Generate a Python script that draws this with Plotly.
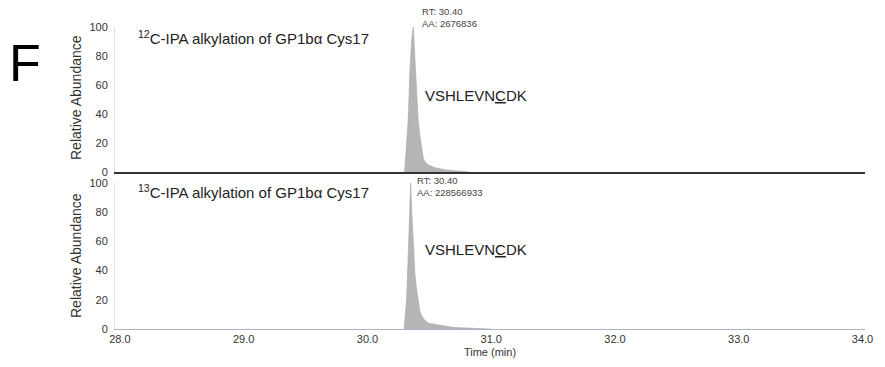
import plotly.graph_objects as go

# ---- data ----
time_12c = [30.300, 30.329, 30.343, 30.357, 30.370, 30.378, 30.389, 30.400, 30.410, 30.424,
            30.438, 30.450, 30.464, 30.491, 30.518, 30.545, 30.626, 30.706, 30.820]
abund_12c = [0, 36, 70, 91, 100, 85, 65, 45, 35, 25,
             16, 10, 7, 5, 4, 3, 1.5, 0.7, 0]

time_13c = [30.296, 30.316, 30.329, 30.340, 30.349, 30.357, 30.370, 30.383, 30.397, 30.410,
            30.424, 30.438, 30.464, 30.491, 30.545, 30.626, 30.706, 30.850, 31.000]
abund_13c = [0, 20, 50, 85, 100, 82, 57, 38, 27, 18,
             12, 9, 6, 4, 3, 2, 1, 0.3, 0]

x_ticks = [28.0, 29.0, 30.0, 31.0, 32.0, 33.0, 34.0]
y_ticks = [0, 20, 40, 60, 80, 100]

title_12c = "<sup>12</sup>C-IPA alkylation of GP1bα Cys17"
title_13c = "<sup>13</sup>C-IPA alkylation of GP1bα Cys17"
peptide = "VSHLEVN<u>C</u>DK"
rt_12c = "RT: 30.40<br>AA: 2676836"
rt_13c = "RT: 30.40<br>AA: 228566933"

W, H = 885, 367
FONT = "Arial, Liberation Sans, sans-serif"

def py(p):  # pixel row -> paper y
    return 1 - p / H

def px(p):
    return p / W

fig = go.Figure()
fig.add_trace(go.Scatter(x=time_12c, y=abund_12c, mode="lines", fill="tozeroy",
                         fillcolor="#b5b5b5", line=dict(color="#a8a8a8", width=0.6),
                         xaxis="x", yaxis="y", hoverinfo="skip", showlegend=False))
fig.add_trace(go.Scatter(x=time_13c, y=abund_13c, mode="lines", fill="tozeroy",
                         fillcolor="#b5b5b5", line=dict(color="#a8a8a8", width=0.6),
                         xaxis="x2", yaxis="y2", hoverinfo="skip", showlegend=False))

xr = [27.96, 34.02]
xdom = [px(115), px(865)]
ycommon = dict(range=[0, 100], tickvals=y_ticks, showline=True, linecolor="#e2e2e2",
               linewidth=1, showgrid=False, zeroline=False, ticks="",
               tickfont=dict(family=FONT, size=11, color="#333"), ticklabelstandoff=4,
               fixedrange=True, automargin=False)

fig.update_layout(
    width=W, height=H, autosize=False,
    margin=dict(l=0, r=0, t=0, b=0),
    paper_bgcolor="white", plot_bgcolor="white",
    xaxis=dict(domain=xdom, range=xr, anchor="y", showticklabels=False, showgrid=False,
               zeroline=False, showline=True, linecolor="#333", linewidth=2, ticks="",
               automargin=False),
    yaxis=dict(domain=[py(172), py(27)], anchor="x", **ycommon),
    xaxis2=dict(domain=xdom, range=xr, anchor="y2", tickvals=x_ticks,
                tickformat=".1f", showgrid=False, zeroline=False, showline=True,
                linecolor="#aab4c8", linewidth=1, ticks="", automargin=False,
                tickfont=dict(family=FONT, size=11, color="#333"),
                title=dict(text="Time (min)", font=dict(family=FONT, size=11, color="#333"),
                           standoff=4)),
    yaxis2=dict(domain=[py(329), py(183)], anchor="x2", **ycommon),
)

ann = []
def A(text, x, y, size, color="#222", xanchor="left", yanchor="middle", angle=0):
    ann.append(dict(text=text, x=x, y=y, xref="paper", yref="paper", showarrow=False,
                    xanchor=xanchor, yanchor=yanchor, textangle=angle, align="left",
                    font=dict(family=FONT, size=size, color=color)))

A("F", px(25), py(63), 52, color="#000", xanchor="center")
A("Relative Abundance", px(76), py(98), 14, color="#333", xanchor="center", angle=-90)
A("Relative Abundance", px(76), py(256), 14, color="#333", xanchor="center", angle=-90)
A(title_12c, px(136), py(38), 15)
A(title_13c, px(136), py(192), 15)
A(peptide, px(423), py(96), 15)
A(peptide, px(423), py(250), 15)
A(rt_12c, px(420), py(17), 9.5, color="#444")
A(rt_13c, px(415), py(186), 9.5, color="#444")

fig.update_layout(annotations=ann)
fig.write_html("out.html", config={"displayModeBar": False},
               post_script="document.body.style.margin='0';document.body.style.overflow='hidden';")
